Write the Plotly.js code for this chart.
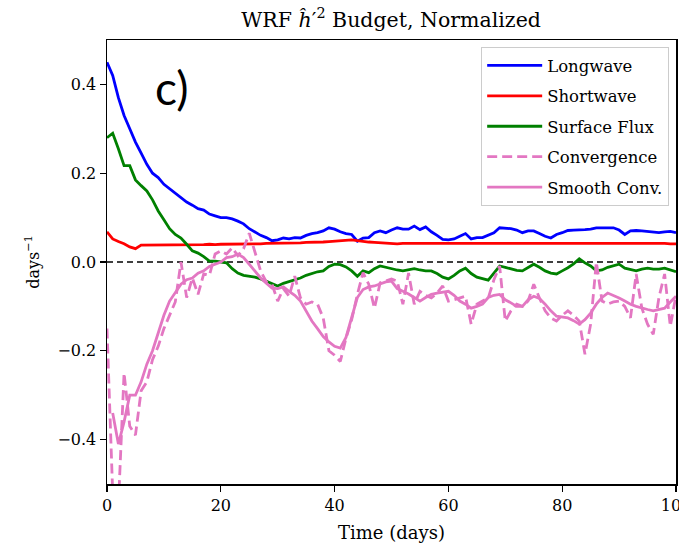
<!DOCTYPE html>
<html>
<head>
<meta charset="utf-8">
<script src="https://cdn.plot.ly/plotly-3.0.1.min.js"></script>
<style>html,body{margin:0;padding:0;background:#fff}#chart{width:679px;height:555px}</style>
</head>
<body>
<div id="chart"></div>
<script>
const days = [0,1,2,3,4,5,6,7,8,9,10,11,12,13,14,15,16,17,18,19,20,21,22,23,24,25,26,27,28,29,30,31,32,33,34,35,36,37,38,39,40,41,42,43,44,45,46,47,48,49,50,51,52,53,54,55,56,57,58,59,60,61,62,63,64,65,66,67,68,69,70,71,72,73,74,75,76,77,78,79,80,81,82,83,84,85,86,87,88,89,90,91,92,93,94,95,96,97,98,99,100];

const longwave = [0.45,0.42,0.37,0.33,0.30,0.27,0.245,0.22,0.20,0.19,0.175,0.165,0.155,0.145,0.135,0.128,0.12,0.117,0.108,0.104,0.10,0.10,0.097,0.092,0.086,0.075,0.067,0.06,0.055,0.048,0.05,0.054,0.052,0.055,0.054,0.06,0.064,0.066,0.07,0.077,0.074,0.068,0.064,0.062,0.047,0.054,0.055,0.066,0.07,0.066,0.072,0.077,0.074,0.074,0.081,0.073,0.079,0.068,0.06,0.051,0.05,0.052,0.058,0.064,0.052,0.055,0.055,0.06,0.066,0.077,0.076,0.075,0.072,0.066,0.07,0.07,0.064,0.058,0.054,0.062,0.066,0.071,0.072,0.072,0.073,0.074,0.077,0.077,0.077,0.077,0.072,0.062,0.07,0.071,0.07,0.069,0.067,0.066,0.068,0.069,0.066];

const shortwave = [0.068,0.052,0.046,0.041,0.034,0.030,0.038,0.038,0.038,0.038,0.039,0.038,0.039,0.039,0.038,0.039,0.039,0.039,0.040,0.039,0.040,0.040,0.040,0.041,0.040,0.041,0.041,0.041,0.042,0.042,0.042,0.043,0.042,0.043,0.043,0.044,0.044,0.045,0.045,0.046,0.047,0.048,0.049,0.050,0.048,0.046,0.045,0.044,0.043,0.042,0.041,0.041,0.042,0.042,0.042,0.042,0.042,0.043,0.042,0.042,0.042,0.042,0.043,0.042,0.042,0.042,0.043,0.043,0.042,0.043,0.043,0.043,0.043,0.043,0.043,0.043,0.043,0.042,0.042,0.042,0.042,0.042,0.042,0.043,0.042,0.043,0.043,0.043,0.043,0.043,0.043,0.043,0.043,0.043,0.043,0.043,0.042,0.042,0.042,0.041,0.041];

const surfaceFlux = [0.28,0.29,0.255,0.217,0.217,0.185,0.172,0.16,0.14,0.115,0.095,0.075,0.062,0.054,0.04,0.025,0.02,0.012,0.002,0.002,0.0,-0.002,-0.015,-0.025,-0.03,-0.032,-0.034,-0.038,-0.043,-0.049,-0.054,-0.048,-0.044,-0.04,-0.036,-0.03,-0.026,-0.022,-0.02,-0.01,-0.005,-0.006,-0.011,-0.02,-0.032,-0.02,-0.024,-0.015,-0.009,-0.012,-0.016,-0.018,-0.02,-0.017,-0.015,-0.018,-0.02,-0.02,-0.026,-0.034,-0.038,-0.03,-0.02,-0.014,-0.026,-0.034,-0.037,-0.041,-0.025,-0.009,-0.012,-0.016,-0.019,-0.02,-0.012,-0.005,-0.012,-0.02,-0.025,-0.027,-0.02,-0.013,-0.004,0.007,-0.002,-0.009,-0.02,-0.018,-0.012,-0.008,-0.005,-0.014,-0.017,-0.02,-0.016,-0.014,-0.016,-0.016,-0.014,-0.018,-0.022];

const convergence = [-0.15,-0.52,-0.55,-0.25,-0.37,-0.39,-0.29,-0.27,-0.22,-0.19,-0.15,-0.12,-0.09,0.0,-0.08,-0.036,-0.073,-0.027,-0.03,0.018,0.025,0.018,0.032,0.014,0.03,0.065,0.02,-0.02,-0.045,-0.05,-0.088,-0.06,-0.077,-0.032,-0.081,-0.095,-0.09,-0.095,-0.126,-0.2,-0.21,-0.224,-0.172,-0.13,-0.073,-0.024,-0.05,-0.104,-0.047,-0.042,-0.038,-0.043,-0.095,-0.025,-0.095,-0.066,-0.075,-0.081,-0.07,-0.054,-0.088,-0.085,-0.081,-0.077,-0.14,-0.095,-0.088,-0.081,-0.04,-0.009,-0.133,-0.11,-0.095,-0.1,-0.088,-0.05,-0.081,-0.11,-0.126,-0.133,-0.12,-0.11,-0.12,-0.133,-0.208,-0.14,0.0,-0.088,-0.095,-0.09,-0.088,-0.1,-0.126,-0.027,-0.104,-0.14,-0.163,-0.08,-0.027,-0.145,-0.075];

const smoothDays = [1,2,3,4,5,6,7,8,9,10,11,12,13,14,15,16,17,18,19,20,21,22,23,24,25,26,27,28,29,30,31,32,33,34,35,36,37,38,39,40,41,42,43,44,45,46,47,48,49,50,51,52,53,54,55,56,57,58,59,60,61,62,63,64,65,66,67,68,69,70,71,72,73,74,75,76,77,78,79,80,81,82,83,84,85,86,87,88,89,90,91,92,93,94,95,96,97,98,99,100];
const smoothConv = [-0.34,-0.41,-0.36,-0.3,-0.3,-0.27,-0.23,-0.2,-0.16,-0.12,-0.088,-0.07,-0.05,-0.04,-0.036,-0.025,-0.02,-0.01,-0.005,0.0,0.01,0.012,0.018,0.01,-0.005,-0.02,-0.036,-0.048,-0.059,-0.06,-0.056,-0.066,-0.075,-0.088,-0.11,-0.133,-0.15,-0.168,-0.18,-0.19,-0.194,-0.17,-0.125,-0.08,-0.062,-0.056,-0.054,-0.05,-0.045,-0.043,-0.06,-0.066,-0.072,-0.08,-0.088,-0.08,-0.073,-0.07,-0.068,-0.066,-0.075,-0.088,-0.095,-0.104,-0.1,-0.095,-0.08,-0.075,-0.073,-0.085,-0.092,-0.1,-0.1,-0.085,-0.077,-0.082,-0.095,-0.11,-0.122,-0.124,-0.126,-0.132,-0.14,-0.13,-0.115,-0.095,-0.08,-0.07,-0.075,-0.081,-0.088,-0.095,-0.1,-0.104,-0.107,-0.11,-0.107,-0.104,-0.09,-0.077];

const names = ["Longwave","Shortwave","Surface Flux","Convergence","Smooth Conv."];
const colors = ["#0000ff","#ff0000","#008000","#e377c2","#e377c2"];
const serif = "DejaVu Serif";

const traces = [
  {x: days, y: longwave, name: names[0], line: {color: colors[0], width: 2.8}},
  {x: days, y: shortwave, name: names[1], line: {color: colors[1], width: 2.8}},
  {x: days, y: surfaceFlux, name: names[2], line: {color: colors[2], width: 2.8}},
  {x: days, y: convergence, name: names[3], line: {color: colors[3], width: 2.8, dash: "10px,5px"}},
  {x: smoothDays, y: smoothConv, name: names[4], line: {color: colors[4], width: 2.8}}
].map((t, i) => Object.assign({type: "scatter", mode: "lines", legendgroup: "g" + i}, t));

const layout = {
  width: 679, height: 555,
  margin: {l: 107, r: 3, t: 40, b: 71},
  paper_bgcolor: "#fff", plot_bgcolor: "#fff",
  font: {family: serif, size: 16, color: "#000"},
  title: {text: "WRF <i>ĥ</i>′<sup>2</sup> Budget, Normalized", x: 0.576, xanchor: "center", y: 0.965, yanchor: "middle", font: {family: serif, size: 20.5, color: "#000"}},
  xaxis: {range: [0, 100], tickvals: [0,20,40,60,80,100], ticks: "outside", ticklen: 6, tickwidth: 1.3, tickcolor: "#000",
          ticklabeloverflow: "allow",
          showline: true, linecolor: "#000", linewidth: 1.5, mirror: true, showgrid: false, zeroline: false,
          title: {text: "Time (days)", font: {family: serif, size: 18}, standoff: 12}, tickfont: {family: serif, size: 16}},
  yaxis: {range: [-0.5, 0.5], tickvals: [-0.4,-0.2,0,0.2,0.4], tickformat: ".1f", ticks: "outside", ticklen: 6, tickwidth: 1.3, tickcolor: "#000",
          showline: true, linecolor: "#000", linewidth: 1.5, mirror: true, showgrid: false, zeroline: false,
          title: {text: "days<sup>−1</sup>", font: {family: serif, size: 16}, standoff: 14}, tickfont: {family: serif, size: 16}},
  showlegend: true,
  legend: {x: 0.988, y: 0.984, xanchor: "right", yanchor: "top", bgcolor: "rgba(255,255,255,0.85)", bordercolor: "#cccccc", borderwidth: 1,
           font: {family: serif, size: 16.5, color: "#000"}, traceorder: "grouped", tracegroupgap: 6, itemwidth: 55},
  shapes: [{type: "line", xref: "paper", x0: 0, x1: 1, yref: "y", y0: 0, y1: 0, line: {color: "#000", width: 1.5, dash: "6px,4px"}, layer: "below"}],
  annotations: [{text: "c)", xref: "paper", yref: "paper", x: 0.113, y: 0.893, xanchor: "center", yanchor: "middle", showarrow: false,
                 font: {family: "Lato", size: 46, color: "#000"}}]
};

Plotly.newPlot("chart", traces, layout, {displayModeBar: false, staticPlot: true});
</script>
</body>
</html>
